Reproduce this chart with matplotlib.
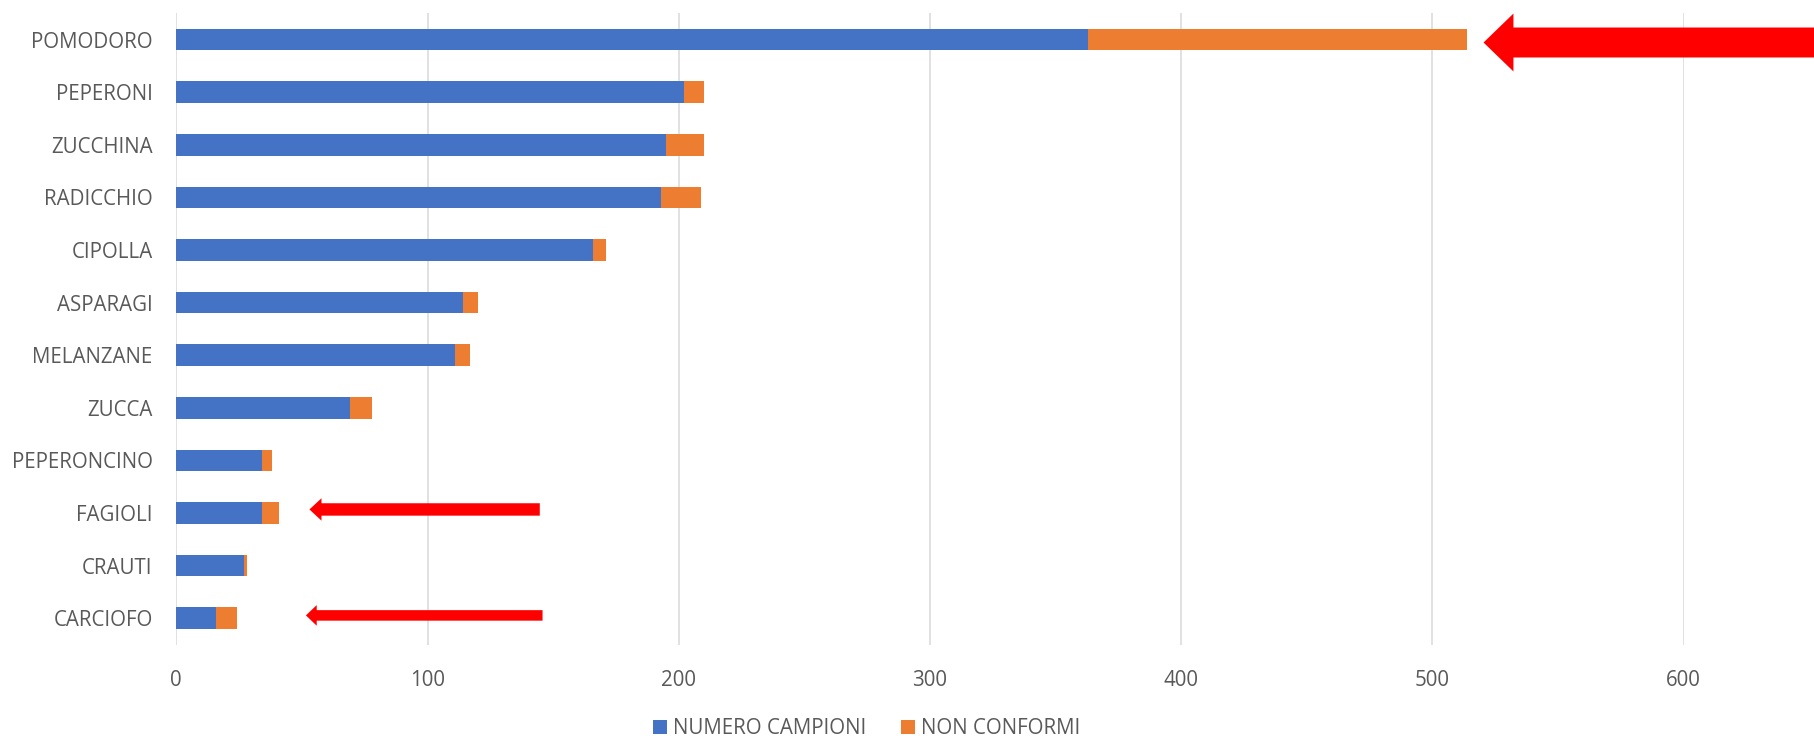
import matplotlib.pyplot as plt
from matplotlib.patches import Polygon

plt.rcParams['font.family'] = ['Open Sans', 'DejaVu Sans']

# Samples per vegetable and how many of them were non-compliant
categories = ['POMODORO', 'PEPERONI', 'ZUCCHINA', 'RADICCHIO', 'CIPOLLA', 'ASPARAGI',
              'MELANZANE', 'ZUCCA', 'PEPERONCINO', 'FAGIOLI', 'CRAUTI', 'CARCIOFO']
numero_campioni = [363, 202, 195, 193, 166, 114, 111, 69, 34, 34, 27, 16]
non_conformi = [151, 8, 15, 16, 5, 6, 6, 9, 4, 7, 1, 8]

blue = '#4472C4'
orange = '#ED7D31'
grey_text = '#595959'

W, H = 1815, 738
fig = plt.figure(figsize=(W / 100, H / 100), dpi=100)
ax = fig.add_axes([176.3 / W, 1 - 644.5 / H, (1683.5 - 176.3) / W, (644.5 - 13.2) / H])

y = range(len(categories))
ax.barh(y, numero_campioni, height=0.41, color=blue, label='NUMERO CAMPIONI', zorder=2)
ax.barh(y, non_conformi, left=numero_campioni, height=0.41, color=orange,
        label='NON CONFORMI', zorder=2)

ax.set_xlim(0, 600)
ax.set_ylim(len(categories) - 0.5, -0.5)
ax.set_yticks(list(y))
ax.set_yticklabels(categories)
ax.set_xticks(range(0, 601, 100))
ax.tick_params(axis='both', length=0, labelsize=14.8, colors=grey_text)
ax.tick_params(axis='y', pad=17)
ax.tick_params(axis='x', pad=18)
ax.grid(axis='x', color='#D9D9D9', linewidth=1.1, zorder=0)
for s in ax.spines.values():
    s.set_visible(False)

# red highlight arrows: (row, y offset, tip, head base, tail, head half-height, shaft half-height)
arrows = [
    (0, 0.057, 520.4, 532.3, 680, 0.55, 0.285),
    (9, -0.067, 53.0, 57.8, 144.7, 0.213, 0.118),
    (11, -0.053, 51.6, 55.9, 145.8, 0.196, 0.10),
]
for row, dy, tip, base, tail, hh, sh in arrows:
    yc = row + dy
    pts = [(tip, yc), (base, yc - hh), (base, yc - sh), (tail, yc - sh),
           (tail, yc + sh), (base, yc + sh), (base, yc + hh)]
    ax.add_patch(Polygon(pts, closed=True, facecolor='#FF0000', edgecolor='none',
                         clip_on=False, zorder=3))

fig.legend(loc='center', bbox_to_anchor=(866.5 / W, 1 - 729 / H), ncol=2, frameon=False,
           fontsize=14.8, labelcolor=grey_text, handlelength=0.66, handleheight=0.66,
           handletextpad=0.3, columnspacing=1.7, borderpad=0, borderaxespad=0)

fig.savefig('out.png', dpi=100)
